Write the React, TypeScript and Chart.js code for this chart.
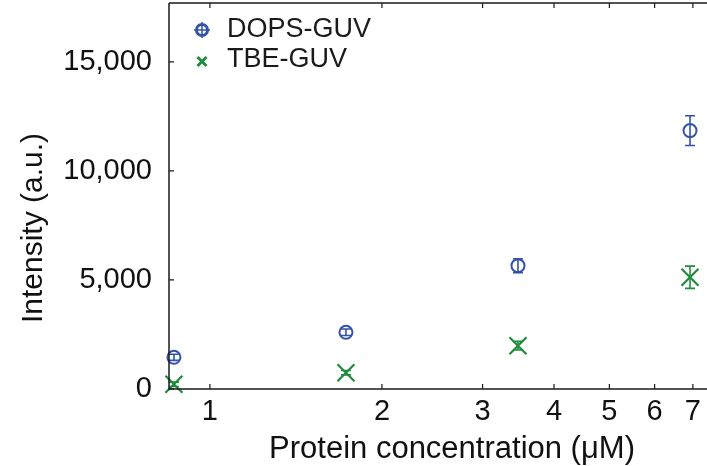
import React, { useEffect, useRef } from "react";
import { Chart, registerables } from "chart.js";

Chart.register(...registerables);

// ---- data ----
const concentrations = [0.865, 1.73, 3.46, 6.92];
const dopsValues = [1454, 2601, 5656, 11848];
const dopsErrors = [140, 150, 320, 680];
const tbeValues = [216, 748, 1986, 5124];
const tbeErrors = [100, 100, 200, 510];
const xTickValues = [1, 2, 3, 4, 5, 6, 7];
const yTickValues = [0, 5000, 10000, 15000];
const seriesLabels = ["DOPS-GUV", "TBE-GUV"];

const BLUE = "#3352aa";
const GREEN = "#1f8c3e";
const AXIS = "#1a1a1a";
const FONT = "'Liberation Sans', Arial, sans-serif";

const decorPlugin = {
  id: "decor",
  afterDatasetsDraw(chart: any) {
    const { ctx, chartArea, scales } = chart;
    const xs = scales.x;
    const ys = scales.y;
    ctx.save();
    // error bars
    chart.data.datasets.forEach((ds: any) => {
      const errs: number[] = ds.errors;
      ctx.strokeStyle = ds.borderColor;
      ctx.lineWidth = 1.6;
      ds.data.forEach((p: any, i: number) => {
        const x = xs.getPixelForValue(p.x);
        const yT = ys.getPixelForValue(p.y + errs[i]);
        const yB = ys.getPixelForValue(p.y - errs[i]);
        ctx.beginPath();
        ctx.moveTo(x, yT);
        ctx.lineTo(x, yB);
        ctx.moveTo(x - 5, yT);
        ctx.lineTo(x + 5, yT);
        ctx.moveTo(x - 5, yB);
        ctx.lineTo(x + 5, yB);
        ctx.stroke();
      });
    });
    // frame
    ctx.strokeStyle = AXIS;
    ctx.lineWidth = 1.5;
    ctx.beginPath();
    ctx.moveTo(chartArea.left, chartArea.top);
    ctx.lineTo(chartArea.left, chartArea.bottom);
    ctx.lineTo(chartArea.right, chartArea.bottom);
    ctx.moveTo(chartArea.left, chartArea.top);
    ctx.lineTo(chartArea.right, chartArea.top);
    ctx.stroke();
    // inward ticks
    ctx.lineWidth = 1.2;
    ctx.beginPath();
    xTickValues.forEach((v) => {
      const x = xs.getPixelForValue(v);
      ctx.moveTo(x, chartArea.bottom);
      ctx.lineTo(x, chartArea.bottom - 5);
      ctx.moveTo(x, chartArea.top);
      ctx.lineTo(x, chartArea.top + 5);
    });
    yTickValues.forEach((v) => {
      const y = ys.getPixelForValue(v);
      ctx.moveTo(chartArea.left, y);
      ctx.lineTo(chartArea.left + 5, y);
    });
    ctx.stroke();
    // axis titles
    ctx.fillStyle = "#111";
    ctx.font = `31px ${FONT}`;
    ctx.textAlign = "center";
    ctx.textBaseline = "alphabetic";
    ctx.fillText("Protein concentration (\u03bcM)", 452, 458);
    ctx.save();
    ctx.translate(42, 228);
    ctx.rotate(-Math.PI / 2);
    ctx.font = `30px ${FONT}`;
    ctx.fillText("Intensity (a.u.)", 0, 0);
    ctx.restore();
    // legend
    ctx.textAlign = "left";
    ctx.font = `27px ${FONT}`;
    ctx.fillStyle = "#1a1a1a";
    ctx.fillText(seriesLabels[0], 227, 37);
    ctx.fillText(seriesLabels[1], 227, 67);
    ctx.strokeStyle = BLUE;
    ctx.lineWidth = 3;
    ctx.beginPath();
    ctx.arc(202, 30, 5.5, 0, Math.PI * 2);
    ctx.stroke();
    ctx.lineWidth = 1.5;
    ctx.beginPath();
    ctx.moveTo(202, 22);
    ctx.lineTo(202, 38);
    ctx.moveTo(194, 30);
    ctx.lineTo(210, 30);
    ctx.stroke();
    ctx.strokeStyle = GREEN;
    ctx.lineWidth = 3;
    ctx.beginPath();
    ctx.moveTo(197.5, 57);
    ctx.lineTo(206.5, 66);
    ctx.moveTo(206.5, 57);
    ctx.lineTo(197.5, 66);
    ctx.stroke();
    ctx.restore();
  },
};

export default function App() {
  const ref = useRef<HTMLCanvasElement | null>(null);
  useEffect(() => {
    document.body.style.margin = "0";
    const canvas = ref.current!;
    const chart = new Chart(canvas, {
      type: "scatter",
      data: {
        datasets: [
          {
            label: seriesLabels[0],
            data: concentrations.map((x, i) => ({ x, y: dopsValues[i] })),
            errors: dopsErrors,
            clip: false,
            pointStyle: "circle",
            pointRadius: 6.5,
            pointBorderWidth: 2,
            borderColor: BLUE,
            backgroundColor: "rgba(0,0,0,0)",
          } as any,
          {
            label: seriesLabels[1],
            data: concentrations.map((x, i) => ({ x, y: tbeValues[i] })),
            errors: tbeErrors,
            clip: false,
            pointStyle: "crossRot",
            pointRadius: 12,
            pointBorderWidth: 2.2,
            borderColor: GREEN,
            backgroundColor: GREEN,
          } as any,
        ],
      },
      options: {
        animation: false,
        responsive: false,
        maintainAspectRatio: false,
        layout: { autoPadding: false, padding: { top: 3, left: 0, right: 0, bottom: 0 } },
        plugins: { legend: { display: false }, tooltip: { enabled: false } },
        scales: {
          x: {
            type: "logarithmic",
            min: 0.848,
            max: 7.41,
            afterBuildTicks: (s: any) => {
              s.ticks = xTickValues.map((v) => ({ value: v }));
            },
            afterFit: (s: any) => {
              s.height = 77;
              s.paddingLeft = 0;
              s.paddingRight = 0;
            },
            ticks: {
              autoSkip: false,
              maxRotation: 0,
              padding: 6,
              color: "#111",
              font: { family: FONT, size: 29 },
              callback: (v: any) => String(v),
            },
            grid: { display: false, drawTicks: false },
            border: { display: false },
          },
          y: {
            min: 0,
            max: 17700,
            afterBuildTicks: (s: any) => {
              s.ticks = yTickValues.map((v) => ({ value: v }));
            },
            afterFit: (s: any) => {
              s.width = 169;
              s.paddingTop = 0;
              s.paddingBottom = 0;
            },
            ticks: {
              padding: 17,
              color: "#111",
              font: { family: FONT, size: 29 },
              callback: (v: any) => Number(v).toLocaleString("en-US"),
            },
            grid: { display: false, drawTicks: false },
            border: { display: false },
          },
        },
      } as any,
      plugins: [decorPlugin],
    });
    return () => chart.destroy();
  }, []);
  return (
    <canvas
      ref={ref}
      width={707}
      height={466}
      style={{ position: "fixed", left: 0, top: 0, display: "block", width: 707, height: 466 }}
    />
  );
}
